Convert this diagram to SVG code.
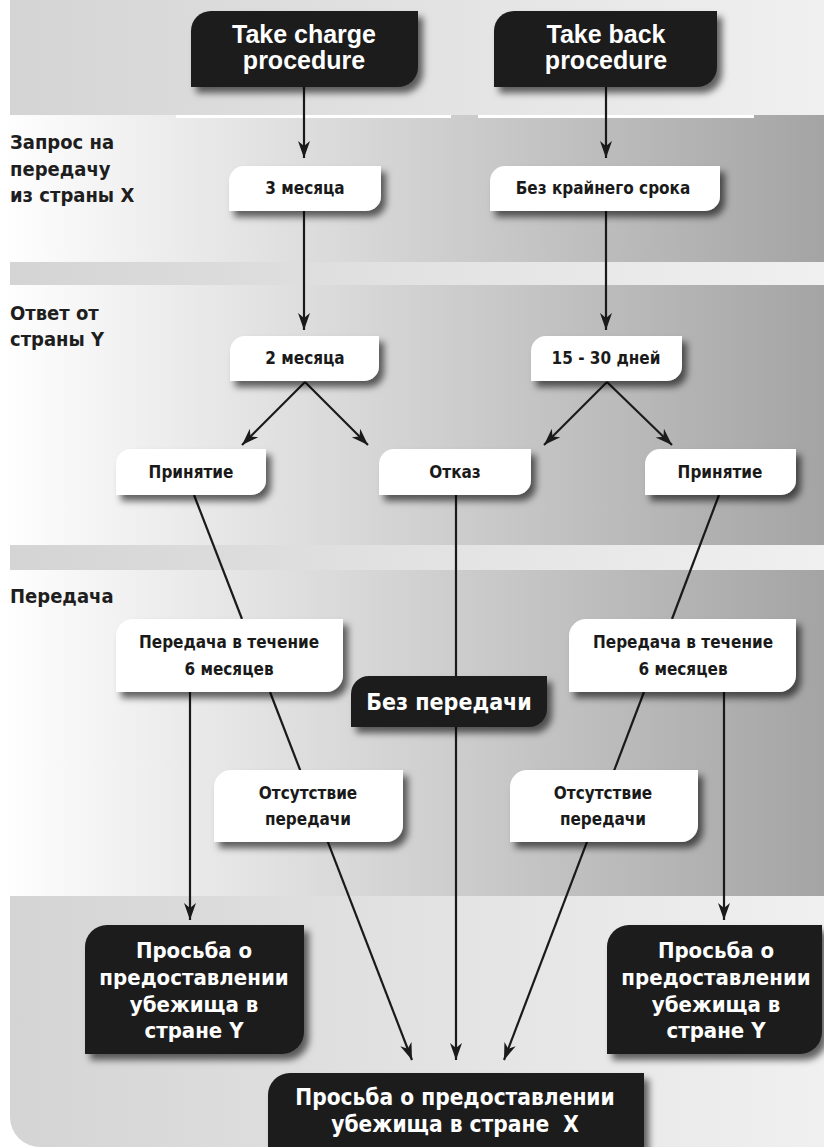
<svg xmlns="http://www.w3.org/2000/svg" width="824" height="1147" viewBox="0 0 824 1147">
<defs>
<linearGradient id="gMain" x1="0" y1="0" x2="824" y2="0" gradientUnits="userSpaceOnUse">
<stop offset="0" stop-color="#ffffff"/><stop offset="1" stop-color="#a4a4a4"/>
</linearGradient>
<linearGradient id="gLight" x1="0" y1="0" x2="824" y2="0" gradientUnits="userSpaceOnUse">
<stop offset="0" stop-color="#d4d4d4"/><stop offset="1" stop-color="#f0f0f0"/>
</linearGradient>
<filter id="sh" x="-20%" y="-30%" width="150%" height="180%">
<feDropShadow dx="5" dy="6" stdDeviation="3.5" flood-color="#000" flood-opacity="0.6"/>
</filter>
<marker id="arr" markerWidth="20" markerHeight="14" refX="17" refY="7" orient="auto" markerUnits="userSpaceOnUse" viewBox="0 0 20 14">
<path d="M17,7 L0,1 L5,7 L0,13 Z" fill="#1a1a1a"/>
</marker>
<style>
.lbl{font-family:"DejaVu Sans Condensed","DejaVu Sans",sans-serif;font-weight:700;font-size:20px;fill:#1e1e1e}
.wt{font-family:"DejaVu Sans Condensed","DejaVu Sans",sans-serif;font-weight:700;font-size:17px;fill:#1a1a1a;text-anchor:middle}
.bt{font-family:"DejaVu Sans Condensed","DejaVu Sans",sans-serif;font-weight:700;font-size:22px;fill:#ffffff;text-anchor:middle}
.en{font-family:"Liberation Sans",Arial,sans-serif;font-weight:700;font-size:25px;fill:#ffffff;text-anchor:middle}
.wbox{fill:#ffffff;filter:url(#sh)}
.kbox{fill:#1c1c1c;filter:url(#sh)}
.con{stroke:#1a1a1a;stroke-width:2.2;fill:none}
.arw{marker-end:url(#arr)}
</style>
</defs>

<g id="background">
<rect x="10" y="0" width="814" height="115" fill="url(#gLight)"/>
<rect x="0" y="115" width="824" height="147" fill="url(#gMain)"/>
<rect x="176" y="115" width="275" height="3" fill="#ffffff"/>
<rect x="478" y="115" width="276" height="3" fill="#ffffff"/>
<rect x="10" y="262" width="814" height="23" fill="url(#gLight)"/>
<rect x="0" y="285" width="824" height="260" fill="url(#gMain)"/>
<rect x="10" y="545" width="814" height="25" fill="url(#gLight)"/>
<rect x="0" y="570" width="824" height="326" fill="url(#gMain)"/>
<path d="M10,896 H824 V1147 H40 A30,30 0 0 1 10,1117 Z" fill="url(#gLight)"/>
</g>

<g id="labels">
<text class="lbl" x="10" y="149">Запрос на</text>
<text class="lbl" x="10" y="176">передачу</text>
<text class="lbl" x="10" y="202">из страны X</text>
<text class="lbl" x="10" y="320">Ответ от</text>
<text class="lbl" x="10" y="346">страны Y</text>
<text class="lbl" x="10" y="603">Передача</text>
</g>

<g id="connectors">
<line class="con arw" x1="304" y1="87" x2="304" y2="158"/>
<line class="con arw" x1="606" y1="87" x2="606" y2="158"/>
<line class="con arw" x1="304" y1="211" x2="304" y2="330"/>
<line class="con arw" x1="606" y1="211" x2="606" y2="330"/>
<line class="con arw" x1="305" y1="382" x2="242" y2="445"/>
<line class="con arw" x1="305" y1="382" x2="368" y2="445"/>
<line class="con arw" x1="607" y1="382" x2="544" y2="445"/>
<line class="con arw" x1="607" y1="382" x2="672" y2="445"/>
<line class="con" x1="194" y1="495" x2="242" y2="619"/>
<line class="con" x1="719" y1="495" x2="672" y2="619"/>
<line class="con arw" x1="456" y1="495" x2="456" y2="1060"/>
<line class="con arw" x1="190" y1="692" x2="190" y2="920"/>
<line class="con arw" x1="724" y1="692" x2="724" y2="920"/>
<line class="con arw" x1="270" y1="692" x2="412" y2="1060"/>
<line class="con arw" x1="644" y1="692" x2="504" y2="1060"/>
</g>

<g id="n-take-charge">
<path class="kbox" d="M191,31 A20,20 0 0 1 211,11 H418 V67 A20,20 0 0 1 398,87 H191 Z"/>
<text class="en" x="304" y="43">Take charge</text>
<text class="en" x="304" y="69">procedure</text>
</g>
<g id="n-take-back">
<path class="kbox" d="M494,31 A20,20 0 0 1 514,11 H717 V67 A20,20 0 0 1 697,87 H494 Z"/>
<text class="en" x="606" y="43">Take back</text>
<text class="en" x="606" y="69">procedure</text>
</g>

<g id="n-3m">
<path class="wbox" d="M229,181 A15,15 0 0 1 244,166 H381 V196 A15,15 0 0 1 366,211 H229 Z"/>
<text class="wt" x="305" y="194">3 месяца</text>
</g>
<g id="n-nodeadline">
<path class="wbox" d="M490,181 A15,15 0 0 1 505,166 H720 V196 A15,15 0 0 1 705,211 H490 Z"/>
<text class="wt" x="603" y="194">Без крайнего срока</text>
</g>

<g id="n-2m">
<path class="wbox" d="M230,351 A15,15 0 0 1 245,336 H379 V366 A15,15 0 0 1 364,381 H230 Z"/>
<text class="wt" x="305" y="364">2 месяца</text>
</g>
<g id="n-15-30">
<path class="wbox" d="M531,351 A15,15 0 0 1 546,336 H682 V366 A15,15 0 0 1 667,381 H531 Z"/>
<text class="wt" x="606" y="364">15 - 30 дней</text>
</g>

<g id="n-accept-left">
<path class="wbox" d="M116,464 A15,15 0 0 1 131,449 H266 V480 A15,15 0 0 1 251,495 H116 Z"/>
<text class="wt" x="191" y="478">Принятие</text>
</g>
<g id="n-refusal">
<path class="wbox" d="M379,464 A15,15 0 0 1 394,449 H531 V480 A15,15 0 0 1 516,495 H379 Z"/>
<text class="wt" x="455" y="478">Отказ</text>
</g>
<g id="n-accept-right">
<path class="wbox" d="M645,464 A15,15 0 0 1 660,449 H796 V480 A15,15 0 0 1 781,495 H645 Z"/>
<text class="wt" x="720" y="478">Принятие</text>
</g>

<g id="n-transfer-left">
<path class="wbox" d="M116,636 A17,17 0 0 1 133,619 H343 V675 A17,17 0 0 1 326,692 H116 Z"/>
<text class="wt" x="229" y="648">Передача в течение</text>
<text class="wt" x="229" y="675">6 месяцев</text>
</g>
<g id="n-transfer-right">
<path class="wbox" d="M569,636 A17,17 0 0 1 586,619 H796 V675 A17,17 0 0 1 779,692 H569 Z"/>
<text class="wt" x="683" y="648">Передача в течение</text>
<text class="wt" x="683" y="675">6 месяцев</text>
</g>

<g id="n-no-transfer">
<path class="kbox" d="M351,694 A18,18 0 0 1 369,676 H547 V709 A18,18 0 0 1 529,727 H351 Z"/>
<text class="bt" x="449" y="710" style="font-size:23px">Без передачи</text>
</g>

<g id="n-absence-left">
<path class="wbox" d="M214,787 A17,17 0 0 1 231,770 H403 V825 A17,17 0 0 1 386,842 H214 Z"/>
<text class="wt" x="308" y="799">Отсутствие</text>
<text class="wt" x="308" y="825">передачи</text>
</g>
<g id="n-absence-right">
<path class="wbox" d="M510,787 A17,17 0 0 1 527,770 H698 V825 A17,17 0 0 1 681,842 H510 Z"/>
<text class="wt" x="603" y="799">Отсутствие</text>
<text class="wt" x="603" y="825">передачи</text>
</g>

<g id="n-asylum-y-left">
<path class="kbox" d="M85,947 A22,22 0 0 1 107,925 H304 V1032 A22,22 0 0 1 282,1054 H85 Z"/>
<text class="bt" x="194" y="958">Просьба о</text>
<text class="bt" x="194" y="985">предоставлении</text>
<text class="bt" x="194" y="1012">убежища в</text>
<text class="bt" x="194" y="1038">стране Y</text>
</g>
<g id="n-asylum-y-right">
<path class="kbox" d="M607,947 A22,22 0 0 1 629,925 H822 V1032 A22,22 0 0 1 800,1054 H607 Z"/>
<text class="bt" x="716" y="958">Просьба о</text>
<text class="bt" x="716" y="985">предоставлении</text>
<text class="bt" x="716" y="1012">убежища в</text>
<text class="bt" x="716" y="1038">стране Y</text>
</g>

<g id="n-asylum-x">
<path class="kbox" d="M268,1095 A22,22 0 0 1 290,1073 H644 V1170 H268 Z"/>
<text class="bt" x="455" y="1105" style="font-size:22.5px">Просьба о предоставлении</text>
<text class="bt" x="455" y="1132" style="font-size:22.5px" xml:space="preserve">убежища в стране  X</text>
</g>
</svg>
